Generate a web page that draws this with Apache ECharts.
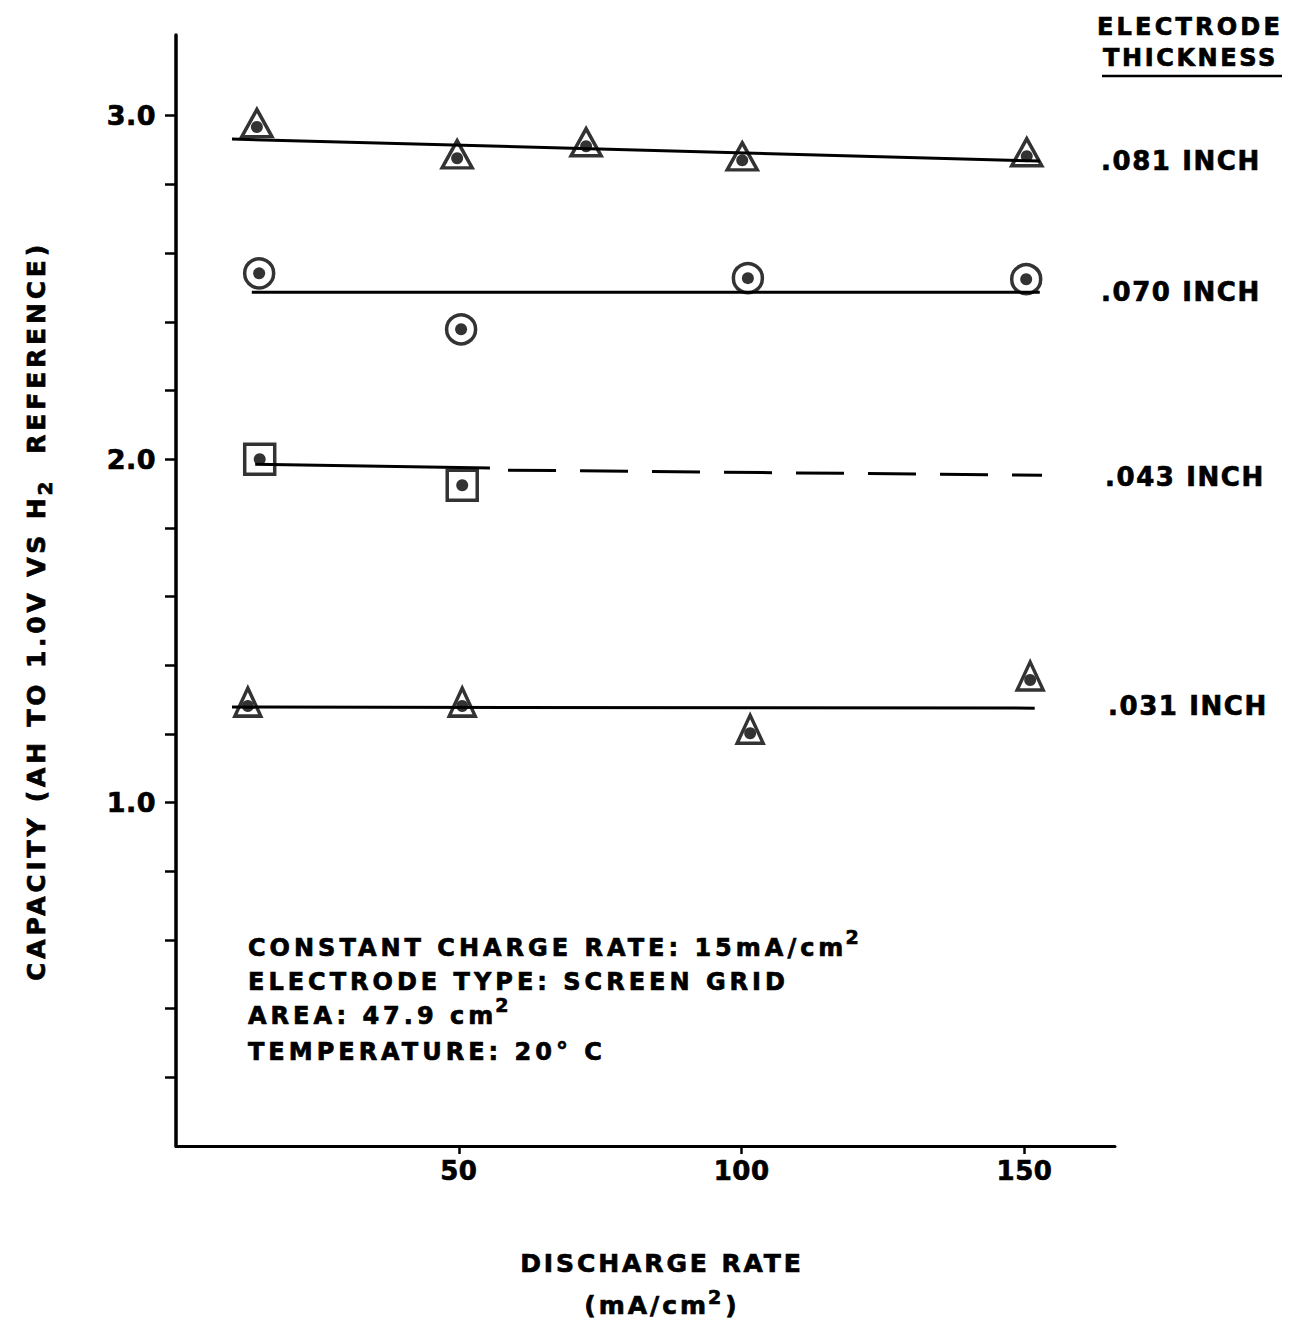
<!DOCTYPE html>
<html><head><meta charset="utf-8">
<script src="https://cdn.jsdelivr.net/npm/echarts@6/dist/echarts.min.js"></script>
<style>html,body{margin:0;padding:0;background:#fff}#chart{width:1290px;height:1318px}</style>
</head><body><div id="chart"></div>
<script>
// ---- data ----
const xTickValues = [50, 100, 150];
const yTickValues = [0.2,0.4,0.6,0.8,1.0,1.2,1.4,1.6,1.8,2.0,2.2,2.4,2.6,2.8,3.0];
const yLabelValues = [1, 2, 3];

const pts081 = [[14.3,2.967],[49.7,2.876],[72.5,2.911],[100.1,2.870],[150.4,2.882]];
const fit081 = [[9.9,2.932],[152.7,2.868]];
const pts070 = [[14.7,2.541],[50.4,2.378],[101.1,2.527],[150.3,2.524]];
const fit070 = [[13.4,2.486],[152.7,2.486]];
const pts043 = [[14.8,2.000],[50.6,1.924]];
const fit043Solid = [[14.0,1.985],[55.5,1.974]];
const fit043Dashed = [[58.7,1.968],[153.1,1.953]];
const pts031 = [[12.7,1.281],[50.6,1.281],[101.5,1.202],[151.0,1.357]];
const fit031 = [[9.9,1.278],[151.8,1.275]];

const thicknessLabels = ['.081 INCH', '.070 INCH', '.043 INCH', '.031 INCH'];
const legendTitle = ['ELECTRODE', 'THICKNESS'];
// [main text, superscript]
const noteLines = [['CONSTANT CHARGE RATE: 15mA/cm', '2'], ['ELECTRODE TYPE: SCREEN GRID', ''], ['AREA: 47.9 cm', '2'], ['TEMPERATURE: 20° C', '']];
const yTitleParts = ['CAPACITY (AH TO 1.0V VS H', '2', '  REFERENCE)'];
const xTitle = 'DISCHARGE RATE';
const xUnitParts = ['(mA/cm', '2', ')'];

// ---- styling ----
const FONT = '"DejaVu Sans", sans-serif';
const INK = '#000';
const chart = echarts.init(document.getElementById('chart'), null, {renderer: 'svg'});

const mctx = document.createElement('canvas').getContext('2d');
function measure(s, size, spacing) {
  mctx.font = 'bold ' + size + 'px ' + FONT;
  return mctx.measureText(s).width + s.length * spacing;
}

function fitLine(data, dashed) {
  return {type: 'line', data: data, symbol: 'none', silent: true, z: 2,
    lineStyle: {color: INK, width: 3, type: dashed ? [48, 24] : 'solid'}};
}
function shapes(data, symbol, size, offset) {
  return {type: 'scatter', data: data, symbol: symbol, symbolSize: size, symbolOffset: offset || [0, 0],
    silent: true, z: 3,
    itemStyle: {color: 'rgba(0,0,0,0)', borderColor: INK, borderWidth: 3.5}};
}
function dots(data) {
  return {type: 'scatter', data: data, symbol: 'circle', symbolSize: 12, silent: true, z: 4,
    itemStyle: {color: INK}};
}
const spacingMap = {};
function txt(text, x, y, size, spacing, align, extra) {
  spacingMap[text] = spacing;
  return Object.assign({type: 'text', x: x, y: y, silent: true,
    style: {text: text, font: 'bold ' + size + 'px ' + FONT, fill: INK, stroke: INK, lineWidth: 0.7,
      textAlign: align || 'left', textVerticalAlign: 'middle'}}, extra || {});
}

const thicknessPos = [[1101,161],[1101,292],[1105,477],[1108,706]];
const notePosY = [948, 982, 1016, 1052];

const graphics = [];
thicknessLabels.forEach((t, i) => graphics.push(txt(t, thicknessPos[i][0], thicknessPos[i][1], 26, 1.6)));
graphics.push(txt(legendTitle[0], 1097, 27, 24, 3.2));
graphics.push(txt(legendTitle[1], 1103, 58, 24, 2.6));
graphics.push({type: 'line', silent: true, shape: {x1: 1102, y1: 76, x2: 1282, y2: 76},
  style: {stroke: INK, lineWidth: 2.5}});

// notes with superscripts
noteLines.forEach((p, i) => {
  graphics.push(txt(p[0], 248, notePosY[i], 24, 4));
  if (p[1]) {
    const w = measure(p[0], 24, 4);
    graphics.push(txt(p[1], 248 + w - 2, notePosY[i] - 11, 19, 0));
  }
});

// rotated y title (reads bottom to top), subscript shifted to the right
(function () {
  const s = 25, sp = 3.8, subSize = 20;
  const w1 = measure(yTitleParts[0], s, sp), w2 = measure(yTitleParts[1], subSize, 0) + 2, w3 = measure(yTitleParts[2], s, sp);
  const total = w1 + w2 + w3;
  const y0 = 611 + total / 2, xc = 36;
  graphics.push(txt(yTitleParts[0], xc, y0, s, sp, 'left', {rotation: Math.PI / 2}));
  graphics.push(txt(yTitleParts[1], xc + 9, y0 - w1 + 1, subSize, 0, 'left', {rotation: Math.PI / 2}));
  graphics.push(txt(yTitleParts[2], xc, y0 - w1 - w2, s, sp, 'left', {rotation: Math.PI / 2}));
})();

// x title
graphics.push(txt(xTitle, 662, 1263, 25, 2.9, 'center'));
(function () {
  const s = 25, sp = 3, supSize = 19;
  const w1 = measure(xUnitParts[0], s, sp), w2 = measure(xUnitParts[1], supSize, 0) + 3, w3 = measure(xUnitParts[2], s, sp);
  const x0 = 662 - (w1 + w2 + w3) / 2;
  graphics.push(txt(xUnitParts[0], x0, 1305, s, sp));
  graphics.push(txt(xUnitParts[1], x0 + w1 - 1, 1297, supSize, 0));
  graphics.push(txt(xUnitParts[2], x0 + w1 + w2, 1305, s, sp));
})();

chart.setOption({
  animation: false,
  backgroundColor: '#fff',
  grid: {left: 176, right: 175, top: 35, bottom: 172, outerBoundsMode: 'none'},
  xAxis: {
    type: 'value', min: 0, max: 166,
    axisLine: {lineStyle: {color: INK, width: 3}},
    axisTick: {customValues: xTickValues, length: 8, lineStyle: {color: INK, width: 2.5}},
    axisLabel: {customValues: xTickValues, margin: 12, color: INK, fontSize: 26, fontWeight: 'bold', fontFamily: FONT,
      textBorderColor: INK, textBorderWidth: 0.7},
    splitLine: {show: false}
  },
  yAxis: {
    type: 'value', min: 0, max: 3.235,
    axisLine: {lineStyle: {color: INK, width: 3.5}},
    axisTick: {customValues: yTickValues, length: 11, lineStyle: {color: INK, width: 2.5}},
    axisLabel: {customValues: yLabelValues, margin: 20, color: INK, fontSize: 27, fontWeight: 'bold', fontFamily: FONT,
      textBorderColor: INK, textBorderWidth: 0.7, formatter: v => v.toFixed(1)},
    splitLine: {show: false}
  },
  series: [
    fitLine(fit081), shapes(pts081, 'triangle', [30, 27], [0, -4]), dots(pts081),
    fitLine(fit070), shapes(pts070, 'circle', 29), dots(pts070),
    fitLine(fit043Solid), fitLine(fit043Dashed, true), shapes(pts043, 'rect', 30), dots(pts043),
    fitLine(fit031), shapes(pts031, 'triangle', [26, 28], [0, -4]), dots(pts031)
  ],
  graphic: {elements: graphics}
});

// letter spacing to imitate the wide stencil lettering
function applySpacing() {
  document.querySelectorAll('#chart svg text').forEach(t => {
    const s = t.textContent;
    const ls = (s in spacingMap) ? spacingMap[s] : 0.5;
    t.style.letterSpacing = ls + 'px';
  });
}
applySpacing();
chart.on('finished', applySpacing);
</script></body></html>
